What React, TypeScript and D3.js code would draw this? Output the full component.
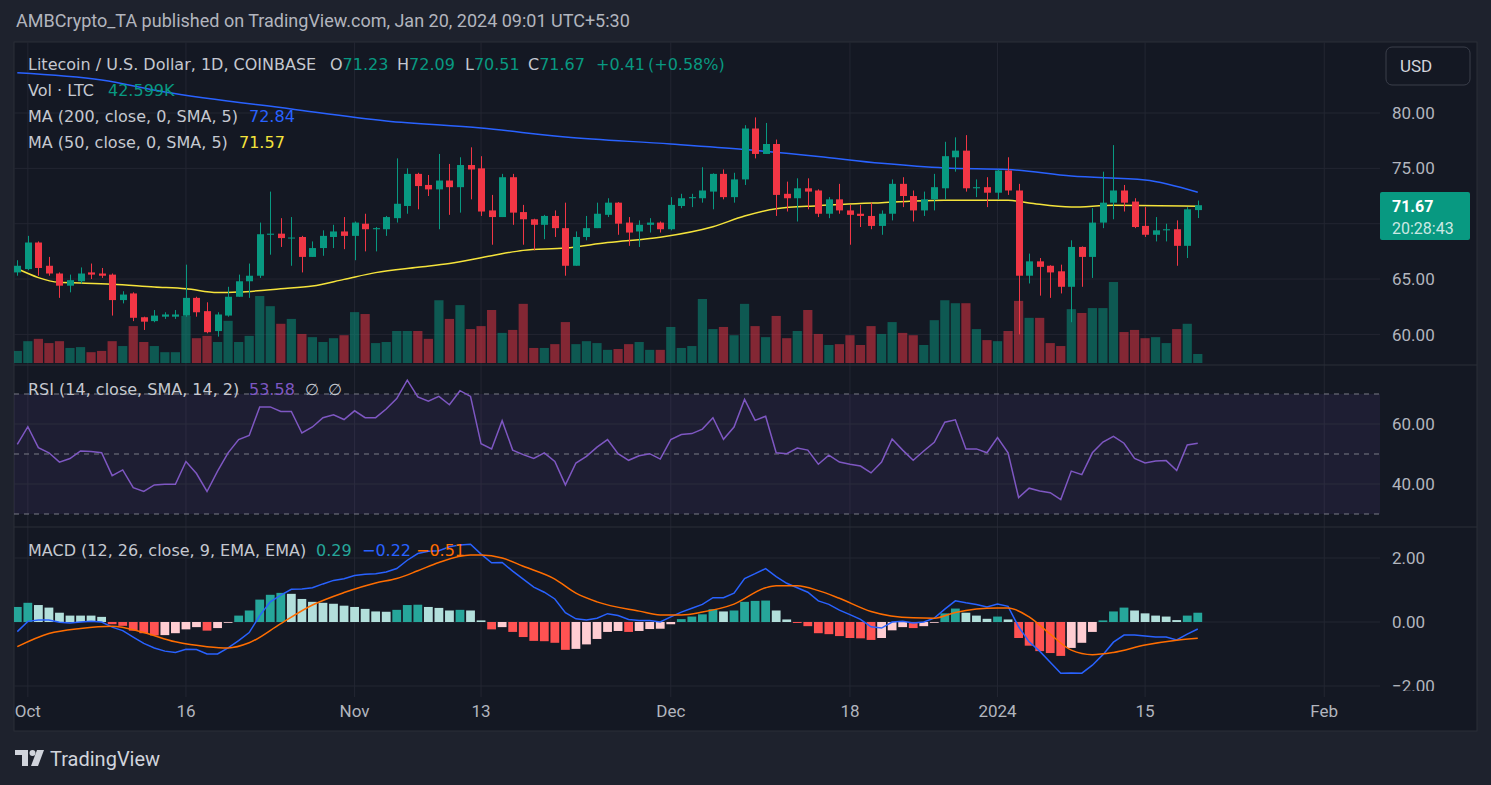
import React, { useEffect } from 'react';
import * as d3 from 'd3';

// daily candles, Sep 30 2023 .. Jan 20 2024
const START = Date.UTC(2023, 8, 30);
const DAY = 86400000;

const opens = [65.6,65.9,68.3,66.2,65.5,64.4,64.8,65.6,65.5,65.4,
63.1,63.7,61.55,61.2,61.6,61.6,61.7,63.3,62.1,60.3,
61.7,63.4,64.8,65.3,69.0,69.1,68.7,68.8,67.0,67.8,
68.8,69.3,68.9,70.0,69.5,69.5,70.5,71.6,74.5,73.5,
73.1,73.9,73.3,75.3,75.0,71.2,70.6,74.2,71.05,70.4,
69.9,70.7,69.6,66.2,68.8,69.6,70.8,71.9,70.1,69.3,
69.9,70.1,69.5,71.6,72.3,72.3,72.9,74.5,72.4,74.0,
78.6,76.3,77.2,72.7,72.3,73.2,73.0,70.9,72.2,71.2,
70.9,70.7,69.8,70.9,73.6,72.5,71.2,72.2,73.2,76.0,
76.6,73.2,73.3,72.8,74.8,73.0,65.3,66.6,66.2,65.7,
64.3,67.9,67.0,70.1,71.9,73.0,72.0,69.8,69.0,69.4,
69.5,68.0,71.23];
const highs = [66.7,68.9,68.4,67.0,65.6,65.4,66.05,66.4,66.0,65.5,
63.9,63.8,61.6,62.2,62.0,62.2,66.3,63.4,62.9,62.0,
64.3,65.4,66.4,70.1,72.9,70.5,70.6,68.9,68.4,69.4,
69.9,70.6,70.2,70.9,69.7,70.7,75.9,75.0,74.6,74.4,
76.3,75.4,76.0,76.9,76.1,72.6,74.5,74.5,71.7,70.45,
70.8,71.2,71.9,69.3,70.7,71.9,72.3,71.95,70.6,70.3,
70.5,70.2,72.4,72.7,72.7,75.1,74.55,74.9,74.6,78.9,
79.6,79.1,77.6,73.8,74.1,74.1,73.1,72.4,73.6,71.7,
71.7,71.9,71.2,74.0,74.2,73.0,72.9,74.5,77.4,77.8,
78.0,74.0,74.2,74.9,76.0,73.6,67.3,66.9,66.25,66.3,
68.5,67.95,71.4,74.7,77.1,73.5,72.3,71.5,70.6,70.0,
70.3,71.5,72.09];
const lows = [65.3,65.8,65.3,65.3,63.3,63.8,64.6,65.0,65.1,61.7,
62.8,61.2,60.4,61.1,61.4,61.4,61.6,61.6,60.1,59.8,
61.6,63.4,63.3,65.1,67.2,67.9,66.2,65.6,67.0,67.1,
67.8,67.7,66.7,67.5,67.5,68.9,70.1,70.9,71.3,72.5,
69.5,70.8,71.0,72.2,70.7,68.1,70.6,69.9,68.1,67.6,
68.6,68.8,65.3,66.2,68.5,69.6,70.6,69.0,68.0,67.9,
69.2,69.2,69.4,71.4,71.5,71.9,71.3,72.2,71.9,73.5,
75.9,76.3,70.7,71.1,70.2,71.3,70.6,70.5,70.9,68.1,
69.7,69.5,69.0,70.3,71.5,70.2,70.7,71.2,72.2,74.7,
72.9,72.4,71.5,72.2,72.6,60.0,64.6,63.5,63.3,63.7,
61.1,64.3,65.1,69.6,70.4,71.1,69.6,68.8,68.4,68.4,
66.2,66.9,70.51];
const closes = [66.2,68.3,66.0,65.5,64.4,64.9,65.5,65.4,65.3,63.1,
63.6,61.5,61.15,61.7,61.8,61.8,63.3,62.0,60.2,61.8,
63.4,64.8,65.3,69.05,69.1,68.7,68.75,67.0,67.8,68.9,
69.3,68.9,70.1,69.5,69.6,70.6,71.8,74.5,73.4,73.1,
73.9,73.3,75.3,74.9,71.1,70.6,74.2,71.0,70.4,69.9,
70.7,69.6,66.2,68.8,69.6,70.9,71.9,70.0,69.2,69.9,
70.1,69.5,71.7,72.3,72.4,73.0,74.5,72.4,74.0,78.6,
76.3,77.2,72.6,72.3,73.2,72.9,70.9,72.2,71.2,70.8,
70.7,69.8,70.9,73.6,72.5,71.2,72.2,73.3,76.1,76.6,
73.2,73.3,72.8,74.8,73.0,65.3,66.6,66.1,65.6,64.3,
67.9,67.0,70.1,71.9,73.0,71.9,69.7,69.0,69.4,69.5,
68.0,71.3,71.67];
// volume in thousands of LTC
const volumes = [57,103,114,94,103,71,75,51,57,103,
80,174,99,80,51,51,222,117,128,99,
199,99,128,316,268,185,208,137,122,99,
117,131,240,231,94,99,151,151,151,114,
296,208,273,160,174,250,142,156,279,71,
71,89,193,89,103,94,62,66,89,99,
62,62,170,71,80,302,160,170,131,279,
174,122,222,117,151,250,137,85,89,131,
85,174,137,193,142,131,85,202,296,282,
282,160,108,103,151,293,213,213,94,80,
254,236,259,259,382,146,156,117,122,94,
160,185,42.599];

const ma200Days = [0, 8, 14, 26, 35, 44, 52, 62, 69, 76, 82, 88, 94, 100, 107, 112];
const ma200 = [83.64, 82.98, 81.9, 80.36, 79.28, 78.64, 77.83, 77.2, 76.7, 76.07, 75.45, 75.03, 74.9, 74.3, 73.95, 72.84];
const ma50Days = [0, 4, 6, 9, 13, 16, 19, 21, 25, 28, 31, 34, 38, 41, 45, 48, 52, 56, 61, 66, 69, 72, 76, 82, 88, 94, 96, 100, 104, 112];
const ma50 = [65.93, 64.7, 64.64, 64.53, 64.28, 64.12, 63.78, 63.83, 64.12, 64.37, 64.97, 65.58, 66.06, 66.4, 67.11, 67.59, 67.8, 68.3, 68.78, 69.73, 70.69, 71.36, 71.63, 71.9, 72.11, 72.11, 71.87, 71.5, 71.67, 71.57];

const rsi = [53.2,59.1,52.1,50.4,47.3,48.5,51.0,50.8,50.4,42.8,
44.7,38.8,37.5,39.7,39.9,39.9,47.5,43.5,37.5,44.3,
50.4,54.8,56.2,65.7,65.7,64.2,64.2,57.0,59.0,62.1,
63.1,61.5,64.4,62.1,62.1,65.0,68.5,74.6,69.0,67.6,
69.2,66.4,71.1,69.2,53.4,51.7,61.1,51.3,49.8,48.5,
50.4,47.5,39.7,47.0,49.2,52.3,54.8,50.1,47.9,49.4,
50.1,48.3,54.8,56.5,56.8,58.3,62.1,54.9,59.0,68.2,
61.2,62.6,50.4,50.1,52.0,51.3,46.6,49.6,47.3,46.6,
46.0,43.7,47.3,55.0,51.3,47.9,51.0,53.9,60.6,61.4,
51.7,51.7,50.4,55.5,50.4,35.5,38.6,37.7,37.1,34.8,
44.3,43.1,50.4,54.0,55.9,53.6,48.5,47.0,47.7,47.8,
44.5,53.0,53.58];

const macdLine = [-0.30,0.02,0.06,0.06,-0.01,-0.03,0.0,0.02,0.0,-0.16,
-0.27,-0.47,-0.67,-0.81,-0.91,-0.95,-0.85,-0.86,-1.0,-1.0,
-0.81,-0.58,-0.33,0.20,0.63,0.84,1.02,1.03,1.07,1.19,
1.30,1.35,1.45,1.49,1.51,1.56,1.67,1.93,2.14,2.21,
2.23,2.35,2.41,2.43,2.12,1.85,1.86,1.59,1.34,1.09,
0.93,0.72,0.29,0.10,0.06,0.12,0.26,0.20,0.08,0.05,
0.05,0.00,0.16,0.31,0.43,0.55,0.76,0.76,0.90,1.36,
1.51,1.67,1.42,1.21,1.07,0.93,0.66,0.55,0.37,0.23,
0.08,-0.15,-0.19,0.0,0.02,-0.03,0.0,0.12,0.40,0.66,
0.60,0.55,0.47,0.56,0.49,-0.15,-0.62,-0.91,-1.26,-1.60,
-1.59,-1.60,-1.35,-1.02,-0.63,-0.41,-0.41,-0.44,-0.47,-0.47,
-0.56,-0.38,-0.22];
const histogram = [0.47,0.60,0.53,0.45,0.29,0.20,0.20,0.20,0.16,-0.07,
-0.12,-0.27,-0.35,-0.42,-0.41,-0.35,-0.23,-0.16,-0.27,-0.19,
-0.01,0.20,0.36,0.70,0.85,0.91,0.88,0.72,0.63,0.60,
0.57,0.51,0.47,0.41,0.33,0.32,0.38,0.53,0.54,0.47,
0.44,0.36,0.38,0.36,0.05,-0.23,-0.16,-0.31,-0.47,-0.59,
-0.60,-0.65,-0.87,-0.84,-0.70,-0.53,-0.31,-0.28,-0.31,-0.28,
-0.22,-0.21,-0.07,0.09,0.17,0.24,0.40,0.33,0.36,0.63,
0.66,0.67,0.36,0.08,-0.03,-0.13,-0.35,-0.38,-0.44,-0.50,
-0.51,-0.56,-0.50,-0.26,-0.16,-0.19,-0.13,-0.01,0.27,0.42,
0.29,0.20,0.10,0.17,0.08,-0.50,-0.74,-0.91,-0.97,-1.06,
-0.81,-0.65,-0.31,0.05,0.33,0.45,0.36,0.27,0.20,0.17,
0.06,0.20,0.29];
const signalDays = [0, 3, 6, 9, 12, 15, 18, 20, 22, 25, 28, 31, 34, 36, 38, 40, 43, 44, 46, 48, 51, 53, 55, 59, 61, 63, 65, 68, 71, 72, 74, 76, 78, 81, 85, 87, 89, 93, 94, 96, 98, 100, 102, 104, 107, 110, 112];
const signalLine = [-0.77, -0.36, -0.2, -0.13, -0.33, -0.62, -0.77, -0.81, -0.65, -0.05, 0.53, 0.92, 1.22, 1.36, 1.6, 1.86, 2.09, 2.09, 2.0, 1.74, 1.34, 0.9, 0.63, 0.34, 0.22, 0.22, 0.31, 0.56, 1.07, 1.13, 1.13, 0.98, 0.74, 0.33, 0.13, 0.12, 0.3, 0.44, 0.44, 0.16, -0.38, -0.88, -1.02, -0.95, -0.72, -0.57, -0.51];

const tickDates = ['2023-10-01', '2023-10-16', '2023-11-01', '2023-11-13', '2023-12-01', '2023-12-18', '2024-01-01', '2024-01-15', '2024-02-01'];
const tickLabels = ['Oct', '16', 'Nov', '13', 'Dec', '18', '2024', '15', 'Feb'];
const priceGrid = [60, 65, 70, 75, 80];
// 70.00 sits under the last-price tag, so it is not labelled
const priceLabels = [60, 65, 75, 80];
const rsiTicks = [40, 60];
const macdTicks = [-2, 0, 2];

const UP = '#089981';
const DOWN = '#f23645';
const GRID = '#232632';
const TEXT = '#b2b5be';
const FONT = 'Roboto, "Noto Sans", sans-serif';
const LEGEND_FONT = '"DejaVu Sans", sans-serif';

export default function App() {
  useEffect(() => {
    document.body.style.margin = '0';
    document.body.style.background = '#1e222d';
  }, []);

  const W = 1491;
  const H = 785;
  const left = 14;
  const plotRight = 1380;
  const right = 1477;
  const main = { top: 42, bottom: 365 };
  const rsiPane = { top: 365, bottom: 527 };
  const macdPane = { top: 527, bottom: 697 };

  const dayX = (i: number) => new Date(START + i * DAY);
  const x = d3
    .scaleUtc()
    .domain([new Date(START), new Date(START + 124 * DAY)])
    .range([17.3, 17.3 + 124 * 10.54]);
  const y = d3.scaleLinear().domain([60, 80]).range([334.4, 113]);
  const vy = d3.scaleLinear().domain([0, 400]).range([363, 278.2]);
  const ry = d3.scaleLinear().domain([30, 70]).range([514, 394]);
  const my = d3.scaleLinear().domain([-2, 2]).range([686, 558]);

  const sparseLine = (yy: d3.ScaleLinear<number, number>) =>
    d3
      .line<[number, number]>()
      .x((d) => x(dayX(d[0])))
      .y((d) => yy(d[1]))
      .curve(d3.curveMonotoneX);

  const ma200Path = sparseLine(y)(ma200Days.map((d, i) => [d, ma200[i]]));
  const ma50Path = sparseLine(y)(ma50Days.map((d, i) => [d, ma50[i]]));
  const signalPath = sparseLine(my)(signalDays.map((d, i) => [d, signalLine[i]]));

  const dailyLine = (yy: d3.ScaleLinear<number, number>) =>
    d3
      .line<number>()
      .x((_, i) => x(dayX(i)))
      .y((d) => yy(d));
  const rsiPath = dailyLine(ry)(rsi);
  const macdPath = dailyLine(my)(macdLine);

  const histColor = (i: number) => {
    const v = histogram[i];
    const prev = i > 0 ? histogram[i - 1] : v - 1;
    if (v >= 0) return prev < v ? '#26a69a' : '#b2dfdb';
    return prev < v ? '#ffcdd2' : '#ff5252';
  };

  const ticks = tickDates.map((d) => new Date(d + 'T00:00:00Z'));

  const paneClip = (id: string, p: { top: number; bottom: number }) => (
    <clipPath id={id}>
      <rect x={left} y={p.top} width={plotRight - left} height={p.bottom - p.top} />
    </clipPath>
  );

  return (
    <div style={{ position: 'absolute', left: 0, top: 0 }}>
      <svg width={W} height={H} style={{ display: 'block', fontFamily: FONT }}>
        <defs>
          {paneClip('clipMain', main)}
          {paneClip('clipRsi', rsiPane)}
          {paneClip('clipMacd', macdPane)}
          <clipPath id="clipAxisMacd">
            <rect x={1380} y={macdPane.top} width={97} height={691 - macdPane.top} />
          </clipPath>
        </defs>
        <rect width={W} height={H} fill="#1e222d" />
        <text x={16} y={27} fill={TEXT} fontSize={18}>
          AMBCrypto_TA published on TradingView.com, Jan 20, 2024 09:01 UTC+5:30
        </text>

        {/* chart frame */}
        <rect x={left} y={main.top} width={right - left} height={731 - main.top} fill="#141823" stroke="#2a2e39" />

        {/* vertical grid */}
        {ticks.map((t, i) => (
          <line key={'vg' + i} x1={x(t)} x2={x(t)} y1={main.top} y2={macdPane.bottom} stroke={GRID} />
        ))}
        {/* horizontal grid */}
        {priceGrid.map((p) => (
          <line key={'pg' + p} x1={left} x2={plotRight} y1={y(p)} y2={y(p)} stroke={GRID} />
        ))}

        {/* main pane */}
        <g clipPath="url(#clipMain)">
          {volumes.map((v, i) => (
            <rect
              key={'v' + i}
              x={x(dayX(i)) - 4.6}
              y={vy(v)}
              width={9.2}
              height={vy(0) - vy(v)}
              fill={closes[i] >= opens[i] ? 'rgba(8,153,129,0.5)' : 'rgba(242,54,69,0.5)'}
            />
          ))}
          <path d={ma200Path || ''} fill="none" stroke="#2962ff" strokeWidth={1.5} />
          <path d={ma50Path || ''} fill="none" stroke="#f5e33b" strokeWidth={1.5} />
          {opens.map((o, i) => {
            const c = closes[i];
            const col = c >= o ? UP : DOWN;
            const cx = Math.round(x(dayX(i))) + 0.5;
            const top = y(Math.max(o, c));
            const bot = y(Math.min(o, c));
            return (
              <g key={'c' + i}>
                <line x1={cx} x2={cx} y1={y(highs[i])} y2={y(lows[i])} stroke={col} />
                <rect x={cx - 3.5} y={top} width={7} height={Math.max(1, bot - top)} fill={col} />
              </g>
            );
          })}
        </g>

        {/* RSI pane */}
        <line x1={left} x2={right} y1={rsiPane.top} y2={rsiPane.top} stroke="#2a2e39" />
        <rect x={left} y={ry(70)} width={plotRight - left} height={ry(30) - ry(70)} fill="rgba(126,87,194,0.1)" />
        {rsiTicks.map((t) => (
          <line key={'rg' + t} x1={left} x2={plotRight} y1={ry(t)} y2={ry(t)} stroke="#2a2d3c" />
        ))}
        {[70, 50, 30].map((t) => (
          <line key={'rd' + t} x1={left} x2={plotRight} y1={ry(t)} y2={ry(t)} stroke="#787b86" strokeDasharray="5,5" />
        ))}
        <g clipPath="url(#clipRsi)">
          <path d={rsiPath || ''} fill="none" stroke="#7e57c2" strokeWidth={1.5} />
        </g>

        {/* MACD pane */}
        <line x1={left} x2={right} y1={macdPane.top} y2={macdPane.top} stroke="#2a2e39" />
        {macdTicks.map((t) => (
          <line key={'mg' + t} x1={left} x2={plotRight} y1={my(t)} y2={my(t)} stroke={GRID} />
        ))}
        <g clipPath="url(#clipMacd)">
          {histogram.map((v, i) => (
            <rect
              key={'h' + i}
              x={x(dayX(i)) - 4.4}
              y={Math.min(my(v), my(0))}
              width={8.8}
              height={Math.max(0.8, Math.abs(my(v) - my(0)))}
              fill={histColor(i)}
            />
          ))}
          <path d={macdPath || ''} fill="none" stroke="#2962ff" strokeWidth={1.5} />
          <path d={signalPath || ''} fill="none" stroke="#ff6d00" strokeWidth={1.5} />
        </g>

        {/* time axis */}
        {ticks.map((t, i) => (
          <text key={'tl' + i} x={x(t)} y={717} fill={TEXT} fontSize={17} textAnchor="middle">
            {tickLabels[i]}
          </text>
        ))}

        {/* price axis */}
        {priceLabels.map((p) => (
          <text key={'pl' + p} x={1392} y={y(p)} dy="0.36em" fill={TEXT} fontSize={17}>
            {p.toFixed(2)}
          </text>
        ))}
        {rsiTicks.map((t) => (
          <text key={'rl' + t} x={1392} y={ry(t)} dy="0.36em" fill={TEXT} fontSize={17}>
            {t.toFixed(2)}
          </text>
        ))}
        <g clipPath="url(#clipAxisMacd)">
          {macdTicks.map((t) => (
            <text key={'ml' + t} x={1392} y={my(t)} dy="0.36em" fill={TEXT} fontSize={17}>
              {t < 0 ? '\u2212' + Math.abs(t).toFixed(2) : t.toFixed(2)}
            </text>
          ))}
        </g>

        <rect x={1386} y={47} width={84} height={38} rx={6} fill="#141823" stroke="#3a3e4a" />
        <text x={1400} y={72} fill="#d1d4dc" fontSize={17}>USD</text>

        <rect x={1380} y={192} width={90} height={48} rx={2} fill={UP} />
        <text x={1392} y={211.5} fill="#ffffff" fontSize={16} fontWeight={700}>71.67</text>
        <text x={1392} y={234} fill="rgba(255,255,255,0.8)" fontSize={16}>20:28:43</text>

        {/* legends */}
        <g fontSize={16} fill="#c5c8d0" fontFamily={LEGEND_FONT}>
          <text x={28} y={69.5}>Litecoin / U.S. Dollar, 1D, COINBASE</text>
          <text y={69.5}>
            <tspan x={330}>O</tspan><tspan fill={UP}>71.23</tspan>
            <tspan x={397}>H</tspan><tspan fill={UP}>72.09</tspan>
            <tspan x={465}>L</tspan><tspan fill={UP}>70.51</tspan>
            <tspan x={528}>C</tspan><tspan fill={UP}>71.67</tspan>
            <tspan x={596} fill={UP}>+0.41</tspan>
            <tspan x={648} fill={UP}>(+0.58%)</tspan>
          </text>
          <text x={28} y={95.7}>Vol · LTC</text>
          <text x={108} y={95.7} fill={UP}>42.599K</text>
          <text x={28} y={121.9}>MA (200, close, 0, SMA, 5)</text>
          <text x={249} y={121.9} fill="#2962ff">72.84</text>
          <text x={28} y={148}>MA (50, close, 0, SMA, 5)</text>
          <text x={239} y={148} fill="#f5e33b">71.57</text>
          <text x={28} y={394.5}>RSI (14, close, SMA, 14, 2)</text>
          <text y={394.5}>
            <tspan x={249} fill="#7e57c2">53.58</tspan>
            <tspan x={305}>∅</tspan>
            <tspan x={328}>∅</tspan>
          </text>
          <text x={28} y={556}>MACD (12, 26, close, 9, EMA, EMA)</text>
          <text y={556}>
            <tspan x={316} fill="#26a69a">0.29</tspan>
            <tspan x={362} fill="#2962ff">−0.22</tspan>
            <tspan x={416} fill="#ff6d00">−0.51</tspan>
          </text>
        </g>

        {/* TradingView logo */}
        <g fill="#d1d4dc">
          <path d="M15 750 H28 V766 H22 V755 H15 Z" />
          <circle cx={32.5} cy={753} r={3} />
          <path d="M37 750 H44 L38 766 H31 Z" />
        </g>
        <text x={50} y={766} fill="#d1d4dc" fontSize={20}>TradingView</text>
      </svg>
    </div>
  );
}
